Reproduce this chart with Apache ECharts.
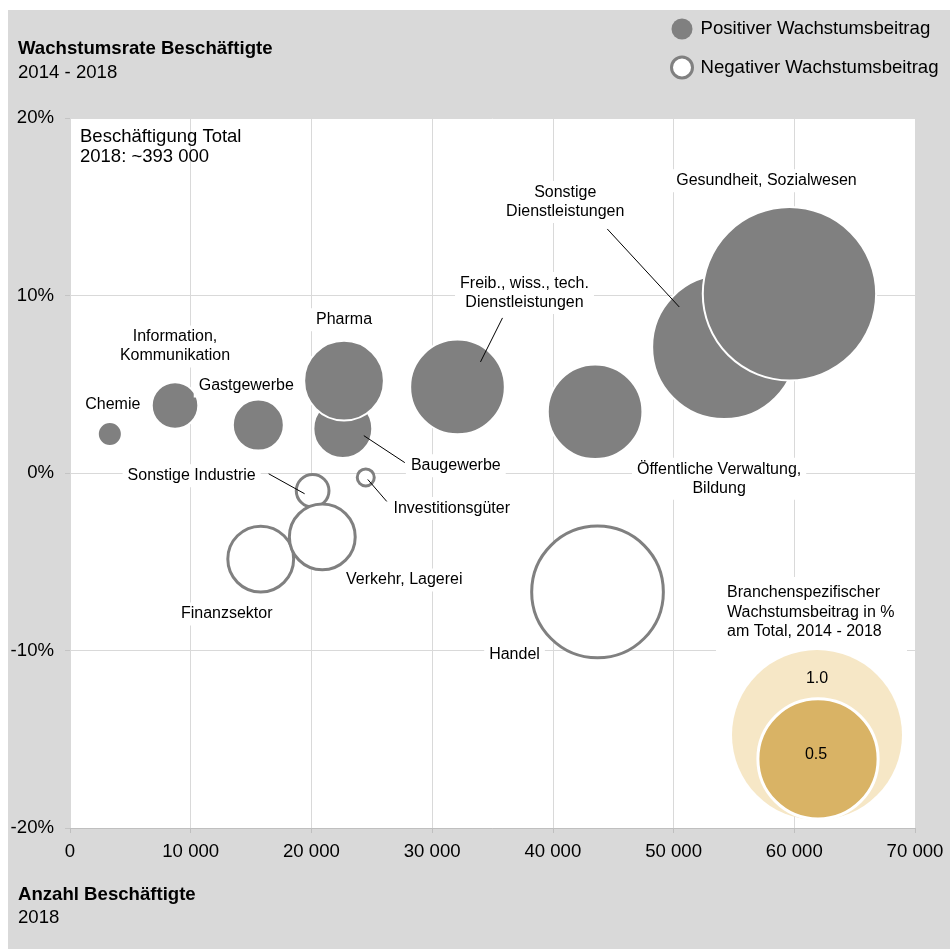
<!DOCTYPE html>
<html>
<head>
<meta charset="utf-8">
<script src="https://cdn.jsdelivr.net/npm/echarts@6/dist/echarts.min.js"></script>
<style>
html, body { margin: 0; padding: 0; background: #fff; }
#chart { position: absolute; left: 8px; top: 10px; width: 942px; height: 939px; }
</style>
</head>
<body>
<div id="chart"></div>
<script>
// Branchen, in Zeichenreihenfolge (spätere liegen oben)
const sectors = [
    'Chemie', 'Information,\nKommunikation', 'Gastgewerbe', 'Baugewerbe', 'Pharma',
    'Freib., wiss., tech.\nDienstleistungen', 'Öffentliche Verwaltung,\nBildung',
    'Sonstige\nDienstleistungen', 'Gesundheit, Sozialwesen',
    'Finanzsektor', 'Handel', 'Investitionsgüter', 'Sonstige Industrie', 'Verkehr, Lagerei'
];
// Anzahl Beschäftigte 2018
const employees = [3300, 8700, 15600, 22600, 22700, 32100, 43500, 54200, 59600, 15800, 43700, 24500, 20100, 20900];
// Wachstumsrate 2014 - 2018 in %
const growthRate = [2.2, 3.8, 2.7, 2.5, 5.2, 4.85, 3.45, 7.1, 10.1, -4.85, -6.7, -0.25, -1.0, -3.6];
// Wachstumsbeitrag am Total in %-Punkten
const contribution = [0.02, 0.075, 0.09, 0.12, 0.22, 0.31, 0.31, 0.72, 1.04, -0.15, -0.6, -0.01, -0.037, -0.15];
const sizeLegendValues = [1.0, 0.5];

const FONT = "'Liberation Sans', Arial, sans-serif";
const BIG = 18.6;
const sizeOf = v => 170 * Math.sqrt(Math.abs(v));

// label offsets relative to bubble centre (px)
const labelOffset = {
    'Chemie': [3, -29],
    'Information,\nKommunikation': [0, -59],
    'Gastgewerbe': [-12, -39],
    'Baugewerbe': [113, 37],
    'Pharma': [0, -61],
    'Freib., wiss., tech.\nDienstleistungen': [67, -94],
    'Öffentliche Verwaltung,\nBildung': [124, 67],
    'Sonstige\nDienstleistungen': [-159, -145],
    'Gesundheit, Sozialwesen': [-23, -113],
    'Finanzsektor': [-34, 55],
    'Handel': [-83, 63],
    'Investitionsgüter': [86, 31],
    'Sonstige Industrie': [-121, -15],
    'Verkehr, Lagerei': [82, 43]
};
// leader lines, [from dx, dy, to dx, dy] relative to bubble centre (px)
const leaders = {
    'Freib., wiss., tech.\nDienstleistungen': [45, -69, 23, -25],
    'Sonstige\nDienstleistungen': [-117, -118, -45, -40],
    'Baugewerbe': [62, 34, 21, 7],
    'Investitionsgüter': [21, 24, 2, 2],
    'Sonstige Industrie': [-44, -17, -8, 3]
};

function points(positive) {
    return sectors.map((s, i) => ({
        name: s,
        value: [employees[i], growthRate[i], contribution[i]],
        label: { offset: labelOffset[s] }
    })).filter(p => positive ? p.value[2] > 0 : p.value[2] < 0);
}

const bubbleLabel = {
    show: true,
    position: 'inside',
    formatter: '{b}',
    color: '#000',
    fontFamily: FONT,
    fontSize: 16,
    lineHeight: 19,
    backgroundColor: '#fff',
    padding: [2, 5]
};

const staticGraphic = [
    {
        id: 'total', type: 'text', left: 72, top: 117, z: 10,
        style: { text: 'Beschäftigung Total\n2018: ~393 000', font: '18.5px ' + FONT, fill: '#000', lineHeight: 20 }
    },
    {
        id: 'sizeBox', type: 'rect', z: 10,
        shape: { x: 708, y: 567, width: 191, height: 78 },
        style: { fill: '#fff' }
    },
    {
        id: 'sizeTitle', type: 'text', left: 719, top: 573, z: 11,
        style: { text: 'Branchenspezifischer\nWachstumsbeitrag in %\nam Total, 2014 - 2018', font: '16px ' + FONT, fill: '#000', lineHeight: 19.5 }
    },
    {
        id: 'size1', type: 'circle', z: 11,
        shape: { cx: 809, cy: 810 - sizeOf(sizeLegendValues[0]) / 2, r: sizeOf(sizeLegendValues[0]) / 2 },
        style: { fill: '#f6e7c6' }
    },
    {
        id: 'size1Label', type: 'text', z: 12, x: 809, y: 669,
        style: { text: sizeLegendValues[0].toFixed(1), font: '16px ' + FONT, fill: '#000', align: 'center', verticalAlign: 'middle' }
    },
    {
        id: 'size2', type: 'circle', z: 12,
        shape: { cx: 810, cy: 809 - sizeOf(sizeLegendValues[1]) / 2, r: sizeOf(sizeLegendValues[1]) / 2 },
        style: { fill: '#d9b365', stroke: '#fff', lineWidth: 3 }
    },
    {
        id: 'size2Label', type: 'text', z: 13, x: 808, y: 745,
        style: { text: sizeLegendValues[1].toFixed(1), font: '16px ' + FONT, fill: '#000', align: 'center', verticalAlign: 'middle' }
    }
];

const chart = echarts.init(document.getElementById('chart'));
chart.setOption({
    animation: false,
    backgroundColor: '#d9d9d9',
    textStyle: { fontFamily: FONT },
    title: [
        {
            text: 'Wachstumsrate Beschäftigte', subtext: '2014 - 2018',
            left: 10, top: 29, padding: 0, itemGap: 5,
            textStyle: { fontFamily: FONT, fontSize: BIG, fontWeight: 'bold', color: '#000' },
            subtextStyle: { fontFamily: FONT, fontSize: BIG, color: '#000' }
        },
        {
            text: 'Anzahl Beschäftigte', subtext: '2018',
            left: 10, top: 875, padding: 0, itemGap: 4,
            textStyle: { fontFamily: FONT, fontSize: BIG, fontWeight: 'bold', color: '#000' },
            subtextStyle: { fontFamily: FONT, fontSize: BIG, color: '#000' }
        }
    ],
    legend: {
        data: [
            { name: 'Positiver Wachstumsbeitrag', itemStyle: { color: '#808080', borderWidth: 0 } },
            { name: 'Negativer Wachstumsbeitrag', itemStyle: { color: '#fff', borderColor: '#808080', borderWidth: 3 } }
        ],
        orient: 'vertical',
        left: 662, top: 8.5, padding: 0,
        itemWidth: 21, itemHeight: 21, itemGap: 16,
        icon: 'circle',
        selectedMode: false,
        textStyle: { fontFamily: FONT, fontSize: BIG, color: '#000', padding: [0, 0, 0, 3] }
    },
    grid: {
        left: 62, right: 35, top: 108, bottom: 121,
        show: true, backgroundColor: '#fff', borderWidth: 0,
        containLabel: false, outerBoundsMode: 'none'
    },
    xAxis: {
        type: 'value', min: 0, max: 70000, interval: 10000,
        axisLine: { show: true, onZero: false, lineStyle: { color: '#bfbfbf', width: 1 } },
        axisTick: { show: true, length: 5, lineStyle: { color: '#bfbfbf' } },
        splitLine: { show: true, lineStyle: { color: '#d9d9d9', width: 1 } },
        axisLabel: {
            margin: 14, fontSize: BIG, color: '#000', fontFamily: FONT,
            formatter: v => String(v).replace(/\B(?=(\d{3})+(?!\d))/g, ' ')
        }
    },
    yAxis: {
        type: 'value', min: -20, max: 20, interval: 10,
        axisLine: { show: false, onZero: false },
        axisTick: { show: true, length: 5, lineStyle: { color: '#c4c4c4' } },
        splitLine: { show: true, lineStyle: { color: '#d9d9d9', width: 1 } },
        axisLabel: { margin: 16, fontSize: BIG, color: '#000', fontFamily: FONT, formatter: '{value}%' }
    },
    series: [
        {
            name: 'Positiver Wachstumsbeitrag',
            type: 'scatter',
            data: points(true),
            symbolSize: d => sizeOf(d[2]),
            itemStyle: { color: '#808080', borderColor: '#fff', borderWidth: 2, opacity: 1 },
            label: bubbleLabel,
            emphasis: { disabled: true },
            z: 3
        },
        {
            name: 'Negativer Wachstumsbeitrag',
            type: 'scatter',
            data: points(false),
            symbolSize: d => sizeOf(d[2]),
            itemStyle: { color: '#fff', borderColor: '#808080', borderWidth: 3, opacity: 1 },
            label: bubbleLabel,
            emphasis: { disabled: true },
            z: 3
        }
    ],
    graphic: staticGraphic
});

// leader lines from the labels to their bubbles
const leaderLines = [];
sectors.forEach((s, i) => {
    if (!leaders[s]) return;
    const c = chart.convertToPixel({ gridIndex: 0 }, [employees[i], growthRate[i]]);
    const d = leaders[s];
    leaderLines.push({
        id: 'leader' + i, type: 'line', z: 20, silent: true,
        shape: { x1: c[0] + d[0], y1: c[1] + d[1], x2: c[0] + d[2], y2: c[1] + d[3] },
        style: { stroke: '#000', lineWidth: 1 }
    });
});
chart.setOption({ graphic: staticGraphic.concat(leaderLines) });
</script>
</body>
</html>
